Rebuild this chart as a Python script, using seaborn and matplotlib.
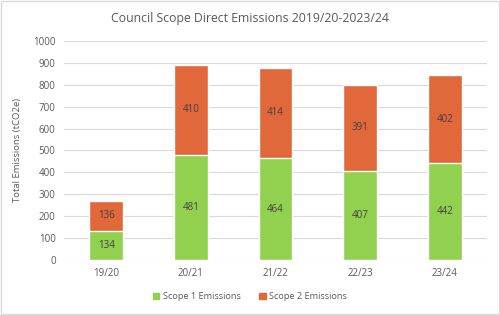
import pandas as pd
import matplotlib.pyplot as plt
import seaborn as sns

years = ["19/20", "20/21", "21/22", "22/23", "23/24"]
scope1 = [134, 481, 464, 407, 442]
scope2 = [136, 410, 414, 391, 402]

GREEN = "#92D050"
ORANGE = "#E0683A"
TXT = "#595959"

sns.set_theme(style="white")
plt.rcParams['font.family'] = ['Open Sans', 'DejaVu Sans']

df = pd.DataFrame({"Year": years, "Scope 1": scope1, "Scope 2": scope2})
df["Total"] = df["Scope 1"] + df["Scope 2"]

fig = plt.figure(figsize=(5, 3.15), dpi=100)
ax = fig.add_axes([0.128, 0.175, 0.846, 0.695])

# stacked: total in orange, scope 1 drawn over it
sns.barplot(data=df, x="Year", y="Total", color=ORANGE, width=0.4,
            saturation=1, ax=ax, zorder=3)
sns.barplot(data=df, x="Year", y="Scope 1", color=GREEN, width=0.4,
            saturation=1, ax=ax, zorder=3)

for i, (s1, s2) in enumerate(zip(scope1, scope2)):
    ax.text(i, s1 / 2, str(s1), ha='center', va='center', fontsize=7, color="#404040", zorder=4)
    ax.text(i, s1 + s2 / 2, str(s2), ha='center', va='center', fontsize=7, color="#404040", zorder=4)

ax.set_ylim(0, 1000)
ax.set_yticks(range(0, 1001, 100))
ax.set_xlim(-0.5, 4.5)
ax.yaxis.grid(True, color="#D9D9D9", linewidth=0.8, zorder=0)
for s in ax.spines.values():
    s.set_visible(False)
ax.tick_params(axis='both', length=0, labelsize=7, colors=TXT, pad=6)
ax.set_xlabel("")
ax.set_ylabel("Total Emissions (tCO2e)", fontsize=6.8, color=TXT, labelpad=8)
fig.text(0.5, 0.94, "Council Scope Direct Emissions 2019/20-2023/24",
         ha='center', va='center', fontsize=8.8, color=TXT)

handles = [plt.Rectangle((0, 0), 1, 1, color=GREEN), plt.Rectangle((0, 0), 1, 1, color=ORANGE)]
fig.legend(handles, ["Scope 1 Emissions", "Scope 2 Emissions"], loc='center',
           bbox_to_anchor=(0.5, 0.058), ncol=2, frameon=False, fontsize=6.6,
           handlelength=0.7, handleheight=0.7, handletextpad=0.4, columnspacing=2.0,
           labelcolor=TXT)

border = plt.Rectangle((0.002, 0.003), 0.996, 0.994, transform=fig.transFigure,
                       fill=False, edgecolor="#D9D9D9", linewidth=1)
fig.patches.append(border)

fig.savefig("out.png", dpi=100)
